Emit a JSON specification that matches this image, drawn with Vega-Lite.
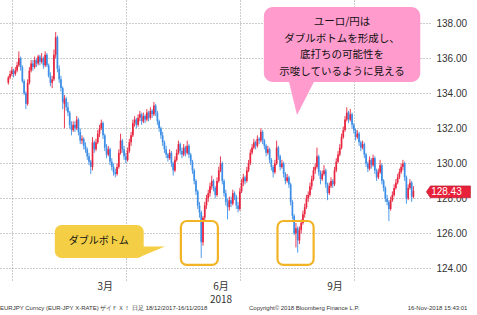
{
"$schema": "https://vega.github.io/schema/vega-lite/v6.json",
"width": 430, "height": 280,
"autosize": "none",
"padding": {"left": 0, "top": 0, "right": 47, "bottom": 35},
"background": "white",
"config": {"view": {"stroke": null}, "font": "Liberation Sans"},
"title": {"text": "\u00a0\u00a0EURJPY Curncy (EUR-JPY X-RATE) ザイＦＸ！ 日足 18/12/2017-16/11/2018\u00a0\u00a0\u00a0\u00a0\u00a0\u00a0\u00a0\u00a0\u00a0\u00a0\u00a0\u00a0\u00a0\u00a0\u00a0\u00a0\u00a0\u00a0\u00a0\u00a0\u00a0\u00a0\u00a0\u00a0\u00a0Copyright© 2018 Bloomberg Finance L.P.\u00a0\u00a0\u00a0\u00a0\u00a0\u00a0\u00a0\u00a0\u00a0\u00a0\u00a0\u00a0\u00a0\u00a0\u00a0\u00a0\u00a0\u00a0\u00a0\u00a0\u00a0\u00a0\u00a0\u00a0\u00a0\u00a0\u00a0\u00a0\u00a016-Nov-2018 15:43:01", "orient": "bottom", "anchor": "start", "frame": "group", "fontSize": 6, "fontWeight": "normal", "color": "#333", "offset": 1},
"datasets": {"candles": [
{"t":1,"o":134.6,"h":135.0,"l":134.5,"c":134.9},
{"t":2,"o":134.9,"h":135.3,"l":134.8,"c":135.1},
{"t":3,"o":135.1,"h":135.5,"l":135.0,"c":135.3},
{"t":4,"o":135.3,"h":135.4,"l":134.9,"c":135.1},
{"t":5,"o":135.1,"h":135.5,"l":135.0,"c":135.3},
{"t":6,"o":135.3,"h":135.8,"l":135.2,"c":135.6},
{"t":7,"o":135.6,"h":136.4,"l":135.5,"c":136.0},
{"t":8,"o":136.0,"h":136.1,"l":135.3,"c":135.5},
{"t":9,"o":135.5,"h":135.6,"l":134.6,"c":134.7},
{"t":10,"o":134.7,"h":134.8,"l":133.9,"c":134.0},
{"t":11,"o":134.0,"h":134.1,"l":133.1,"c":133.4},
{"t":12,"o":133.4,"h":134.8,"l":133.3,"c":134.6},
{"t":13,"o":134.6,"h":135.5,"l":134.5,"c":135.3},
{"t":14,"o":135.3,"h":135.9,"l":135.2,"c":135.7},
{"t":15,"o":135.7,"h":135.9,"l":135.3,"c":135.5},
{"t":16,"o":135.5,"h":136.1,"l":135.4,"c":135.9},
{"t":17,"o":135.9,"h":136.0,"l":135.5,"c":135.7},
{"t":18,"o":135.7,"h":136.2,"l":135.6,"c":136.1},
{"t":19,"o":136.1,"h":136.2,"l":135.6,"c":135.8},
{"t":20,"o":135.8,"h":136.3,"l":135.7,"c":136.0},
{"t":21,"o":136.0,"h":136.1,"l":135.4,"c":135.6},
{"t":22,"o":135.6,"h":136.4,"l":135.5,"c":136.2},
{"t":23,"o":136.2,"h":136.3,"l":135.5,"c":135.6},
{"t":24,"o":135.6,"h":135.7,"l":134.9,"c":135.0},
{"t":25,"o":135.0,"h":135.2,"l":134.4,"c":134.6},
{"t":26,"o":134.6,"h":135.0,"l":134.3,"c":134.8},
{"t":27,"o":134.8,"h":136.5,"l":134.7,"c":136.2},
{"t":28,"o":136.2,"h":137.5,"l":136.0,"c":137.2},
{"t":29,"o":137.2,"h":137.3,"l":135.2,"c":135.4},
{"t":30,"o":135.4,"h":135.6,"l":134.6,"c":134.8},
{"t":31,"o":134.8,"h":135.0,"l":134.1,"c":134.3},
{"t":32,"o":134.3,"h":134.4,"l":133.1,"c":133.5},
{"t":33,"o":133.4,"h":133.9,"l":132.0,"c":133.7},
{"t":34,"o":133.7,"h":133.8,"l":133.0,"c":133.2},
{"t":35,"o":133.2,"h":133.5,"l":132.7,"c":132.9},
{"t":36,"o":132.9,"h":133.0,"l":132.0,"c":132.2},
{"t":37,"o":132.2,"h":132.4,"l":131.6,"c":131.9},
{"t":38,"o":131.9,"h":132.4,"l":131.8,"c":132.2},
{"t":39,"o":132.2,"h":132.4,"l":131.8,"c":132.0},
{"t":40,"o":132.0,"h":132.7,"l":131.9,"c":132.5},
{"t":41,"o":132.5,"h":132.6,"l":131.6,"c":131.8},
{"t":42,"o":131.8,"h":132.0,"l":131.1,"c":131.3},
{"t":43,"o":131.3,"h":131.6,"l":131.1,"c":131.4},
{"t":44,"o":131.4,"h":131.5,"l":130.8,"c":131.0},
{"t":45,"o":131.0,"h":131.2,"l":130.6,"c":130.8},
{"t":46,"o":130.8,"h":130.9,"l":130.2,"c":130.4},
{"t":47,"o":130.4,"h":130.6,"l":129.9,"c":130.1},
{"t":48,"o":130.1,"h":130.2,"l":129.4,"c":129.8},
{"t":49,"o":129.8,"h":131.5,"l":129.6,"c":131.2},
{"t":50,"o":131.2,"h":131.3,"l":130.6,"c":130.8},
{"t":51,"o":130.8,"h":131.4,"l":130.7,"c":131.2},
{"t":52,"o":131.2,"h":131.9,"l":131.1,"c":131.7},
{"t":53,"o":131.7,"h":132.2,"l":131.5,"c":132.0},
{"t":54,"o":132.0,"h":132.5,"l":131.9,"c":132.3},
{"t":55,"o":132.3,"h":132.4,"l":131.4,"c":131.6},
{"t":56,"o":131.6,"h":131.7,"l":130.7,"c":130.9},
{"t":57,"o":130.9,"h":131.1,"l":130.3,"c":130.5},
{"t":58,"o":130.5,"h":131.0,"l":130.4,"c":130.8},
{"t":59,"o":130.8,"h":130.9,"l":129.9,"c":130.1},
{"t":60,"o":130.1,"h":130.3,"l":129.6,"c":129.8},
{"t":61,"o":129.8,"h":130.0,"l":129.3,"c":129.5},
{"t":62,"o":129.5,"h":129.7,"l":129.2,"c":129.4},
{"t":63,"o":129.4,"h":130.0,"l":129.3,"c":129.8},
{"t":64,"o":129.8,"h":130.8,"l":129.7,"c":130.6},
{"t":65,"o":130.6,"h":131.7,"l":130.5,"c":131.3},
{"t":66,"o":131.3,"h":131.4,"l":130.6,"c":130.8},
{"t":67,"o":130.8,"h":131.0,"l":130.2,"c":130.4},
{"t":68,"o":130.4,"h":130.6,"l":130.0,"c":130.2},
{"t":69,"o":130.2,"h":130.9,"l":130.1,"c":130.7},
{"t":70,"o":130.7,"h":131.4,"l":130.6,"c":131.2},
{"t":71,"o":131.2,"h":131.8,"l":131.0,"c":131.6},
{"t":72,"o":131.6,"h":132.5,"l":131.5,"c":132.3},
{"t":73,"o":132.3,"h":132.7,"l":132.1,"c":132.5},
{"t":74,"o":132.5,"h":132.6,"l":132.0,"c":132.2},
{"t":75,"o":132.2,"h":132.8,"l":132.1,"c":132.6},
{"t":76,"o":132.6,"h":133.0,"l":132.4,"c":132.8},
{"t":77,"o":132.8,"h":132.9,"l":132.2,"c":132.4},
{"t":78,"o":132.4,"h":132.9,"l":132.3,"c":132.7},
{"t":79,"o":132.7,"h":132.8,"l":132.3,"c":132.5},
{"t":80,"o":132.5,"h":133.1,"l":132.4,"c":132.9},
{"t":81,"o":132.9,"h":133.0,"l":132.4,"c":132.6},
{"t":82,"o":132.6,"h":133.2,"l":132.5,"c":133.0},
{"t":83,"o":133.0,"h":133.1,"l":132.6,"c":132.8},
{"t":84,"o":132.8,"h":133.5,"l":132.7,"c":133.3},
{"t":85,"o":133.3,"h":133.4,"l":132.7,"c":132.9},
{"t":86,"o":132.9,"h":133.0,"l":132.2,"c":132.4},
{"t":87,"o":132.4,"h":132.5,"l":131.8,"c":132.0},
{"t":88,"o":132.0,"h":132.1,"l":131.4,"c":131.6},
{"t":89,"o":131.6,"h":131.8,"l":131.0,"c":131.2},
{"t":90,"o":131.2,"h":131.3,"l":130.6,"c":130.8},
{"t":91,"o":130.8,"h":131.0,"l":130.3,"c":130.5},
{"t":92,"o":130.5,"h":130.6,"l":130.1,"c":130.3},
{"t":93,"o":130.3,"h":130.8,"l":130.2,"c":130.6},
{"t":94,"o":130.6,"h":130.7,"l":129.8,"c":130.0},
{"t":95,"o":130.0,"h":130.1,"l":129.3,"c":129.6},
{"t":96,"o":129.6,"h":130.4,"l":129.5,"c":130.2},
{"t":97,"o":130.2,"h":130.8,"l":130.1,"c":130.6},
{"t":98,"o":130.6,"h":131.3,"l":130.5,"c":131.1},
{"t":99,"o":131.1,"h":131.2,"l":130.5,"c":130.7},
{"t":100,"o":130.7,"h":130.9,"l":130.3,"c":130.5},
{"t":101,"o":130.5,"h":131.1,"l":130.4,"c":130.9},
{"t":102,"o":130.9,"h":131.0,"l":130.4,"c":130.6},
{"t":103,"o":130.6,"h":131.3,"l":130.5,"c":131.0},
{"t":104,"o":131.0,"h":131.1,"l":130.3,"c":130.5},
{"t":105,"o":130.5,"h":130.6,"l":129.9,"c":130.1},
{"t":106,"o":130.1,"h":130.2,"l":129.4,"c":129.6},
{"t":107,"o":129.6,"h":129.7,"l":128.8,"c":129.0},
{"t":108,"o":129.0,"h":129.1,"l":128.2,"c":128.4},
{"t":109,"o":128.4,"h":128.5,"l":127.4,"c":127.6},
{"t":110,"o":127.6,"h":127.8,"l":126.9,"c":127.2},
{"t":111,"o":127.2,"h":127.3,"l":124.6,"c":125.5},
{"t":112,"o":125.5,"h":127.0,"l":125.3,"c":126.9},
{"t":113,"o":126.9,"h":127.8,"l":126.7,"c":127.6},
{"t":114,"o":127.6,"h":128.2,"l":127.4,"c":128.0},
{"t":115,"o":128.0,"h":128.5,"l":127.8,"c":128.3},
{"t":116,"o":128.3,"h":128.9,"l":128.1,"c":128.7},
{"t":117,"o":128.7,"h":129.3,"l":128.5,"c":129.0},
{"t":118,"o":129.0,"h":129.1,"l":128.4,"c":128.6},
{"t":119,"o":128.6,"h":128.7,"l":128.0,"c":128.2},
{"t":120,"o":128.2,"h":129.2,"l":128.1,"c":129.0},
{"t":121,"o":129.0,"h":129.8,"l":128.9,"c":129.6},
{"t":122,"o":129.6,"h":130.4,"l":129.5,"c":130.0},
{"t":123,"o":130.0,"h":130.1,"l":128.8,"c":129.0},
{"t":124,"o":129.0,"h":129.1,"l":128.1,"c":128.3},
{"t":125,"o":128.3,"h":128.5,"l":127.6,"c":127.8},
{"t":126,"o":127.8,"h":128.0,"l":126.8,"c":127.5},
{"t":127,"o":127.5,"h":128.1,"l":127.3,"c":127.9},
{"t":128,"o":127.9,"h":128.1,"l":127.5,"c":127.7},
{"t":129,"o":127.7,"h":128.5,"l":127.6,"c":128.3},
{"t":130,"o":128.3,"h":128.4,"l":127.9,"c":128.1},
{"t":131,"o":128.1,"h":128.2,"l":127.4,"c":127.6},
{"t":132,"o":127.6,"h":127.8,"l":127.2,"c":127.4},
{"t":133,"o":127.4,"h":128.6,"l":127.3,"c":128.4},
{"t":134,"o":128.4,"h":129.1,"l":128.3,"c":128.9},
{"t":135,"o":128.9,"h":129.4,"l":128.7,"c":129.2},
{"t":136,"o":129.2,"h":129.3,"l":128.8,"c":129.0},
{"t":137,"o":129.0,"h":129.8,"l":128.9,"c":129.6},
{"t":138,"o":129.6,"h":130.2,"l":129.5,"c":130.0},
{"t":139,"o":130.0,"h":130.8,"l":129.9,"c":130.6},
{"t":140,"o":130.6,"h":131.1,"l":130.5,"c":130.9},
{"t":141,"o":130.9,"h":131.4,"l":130.8,"c":131.2},
{"t":142,"o":131.2,"h":131.3,"l":130.8,"c":131.0},
{"t":143,"o":131.0,"h":131.6,"l":130.9,"c":131.4},
{"t":144,"o":131.4,"h":131.5,"l":131.1,"c":131.3},
{"t":145,"o":131.3,"h":132.0,"l":131.2,"c":131.8},
{"t":146,"o":131.8,"h":131.9,"l":131.1,"c":131.3},
{"t":147,"o":131.3,"h":131.4,"l":130.8,"c":131.0},
{"t":148,"o":131.0,"h":131.1,"l":130.4,"c":130.6},
{"t":149,"o":130.6,"h":131.0,"l":130.5,"c":130.8},
{"t":150,"o":130.8,"h":130.9,"l":130.0,"c":130.2},
{"t":151,"o":130.2,"h":130.3,"l":129.6,"c":129.8},
{"t":152,"o":129.8,"h":129.9,"l":129.2,"c":129.5},
{"t":153,"o":129.5,"h":130.2,"l":129.4,"c":130.0},
{"t":154,"o":130.0,"h":131.3,"l":129.9,"c":130.9},
{"t":155,"o":130.9,"h":131.0,"l":130.2,"c":130.4},
{"t":156,"o":130.4,"h":130.5,"l":129.6,"c":129.8},
{"t":157,"o":129.8,"h":130.2,"l":129.7,"c":130.0},
{"t":158,"o":130.0,"h":130.1,"l":129.2,"c":129.4},
{"t":159,"o":129.4,"h":129.5,"l":128.8,"c":129.0},
{"t":160,"o":129.0,"h":129.4,"l":128.9,"c":129.2},
{"t":161,"o":129.2,"h":129.3,"l":128.6,"c":128.8},
{"t":162,"o":128.8,"h":128.9,"l":127.6,"c":127.8},
{"t":163,"o":127.8,"h":127.9,"l":126.8,"c":127.0},
{"t":164,"o":127.0,"h":127.1,"l":125.9,"c":126.0},
{"t":165,"o":126.0,"h":126.6,"l":125.2,"c":126.3},
{"t":166,"o":126.3,"h":126.4,"l":124.9,"c":125.6},
{"t":167,"o":125.6,"h":126.4,"l":125.4,"c":126.2},
{"t":168,"o":126.2,"h":126.8,"l":126.0,"c":126.6},
{"t":169,"o":126.6,"h":127.3,"l":126.5,"c":127.1},
{"t":170,"o":127.1,"h":127.7,"l":126.9,"c":127.5},
{"t":171,"o":127.5,"h":128.2,"l":127.4,"c":128.0},
{"t":172,"o":128.0,"h":128.4,"l":127.8,"c":128.2},
{"t":173,"o":128.2,"h":128.9,"l":128.1,"c":128.7},
{"t":174,"o":128.7,"h":129.3,"l":128.5,"c":129.1},
{"t":175,"o":129.1,"h":129.8,"l":129.0,"c":129.6},
{"t":176,"o":129.6,"h":130.0,"l":129.4,"c":129.8},
{"t":177,"o":129.8,"h":130.9,"l":129.7,"c":130.4},
{"t":178,"o":130.4,"h":130.5,"l":129.3,"c":129.5},
{"t":179,"o":129.5,"h":129.6,"l":128.8,"c":129.1},
{"t":180,"o":129.1,"h":129.6,"l":129.0,"c":129.4},
{"t":181,"o":129.4,"h":129.9,"l":129.3,"c":129.6},
{"t":182,"o":129.6,"h":129.7,"l":128.6,"c":128.8},
{"t":183,"o":128.8,"h":128.9,"l":127.9,"c":128.3},
{"t":184,"o":128.3,"h":128.9,"l":128.2,"c":128.7},
{"t":185,"o":128.7,"h":129.2,"l":128.6,"c":129.0},
{"t":186,"o":129.0,"h":129.1,"l":128.6,"c":128.8},
{"t":187,"o":128.8,"h":129.8,"l":128.7,"c":129.6},
{"t":188,"o":129.6,"h":130.3,"l":129.5,"c":130.1},
{"t":189,"o":130.1,"h":130.7,"l":130.0,"c":130.5},
{"t":190,"o":130.5,"h":131.1,"l":130.4,"c":130.9},
{"t":191,"o":130.9,"h":131.7,"l":130.8,"c":131.5},
{"t":192,"o":131.5,"h":132.1,"l":131.4,"c":131.9},
{"t":193,"o":131.9,"h":132.7,"l":131.8,"c":132.5},
{"t":194,"o":132.5,"h":133.2,"l":132.4,"c":132.9},
{"t":195,"o":132.9,"h":133.0,"l":132.3,"c":132.5},
{"t":196,"o":132.5,"h":133.1,"l":132.4,"c":132.8},
{"t":197,"o":132.8,"h":132.9,"l":132.0,"c":132.2},
{"t":198,"o":132.2,"h":132.3,"l":131.7,"c":131.9},
{"t":199,"o":131.9,"h":132.0,"l":131.3,"c":131.5},
{"t":200,"o":131.5,"h":131.9,"l":131.4,"c":131.7},
{"t":201,"o":131.7,"h":131.8,"l":131.0,"c":131.2},
{"t":202,"o":131.2,"h":131.3,"l":130.7,"c":130.9},
{"t":203,"o":130.9,"h":131.3,"l":130.8,"c":131.1},
{"t":204,"o":131.1,"h":131.2,"l":130.3,"c":130.5},
{"t":205,"o":130.5,"h":130.6,"l":129.8,"c":130.0},
{"t":206,"o":130.0,"h":130.1,"l":129.5,"c":129.7},
{"t":207,"o":129.7,"h":130.4,"l":129.6,"c":130.2},
{"t":208,"o":130.2,"h":130.3,"l":129.7,"c":129.9},
{"t":209,"o":129.9,"h":130.5,"l":129.8,"c":130.3},
{"t":210,"o":130.3,"h":130.4,"l":129.4,"c":129.6},
{"t":211,"o":129.6,"h":129.7,"l":129.0,"c":129.2},
{"t":212,"o":129.2,"h":129.7,"l":129.1,"c":129.5},
{"t":213,"o":129.5,"h":130.2,"l":129.4,"c":129.9},
{"t":214,"o":129.9,"h":130.0,"l":128.8,"c":129.0},
{"t":215,"o":129.0,"h":129.1,"l":128.4,"c":128.6},
{"t":216,"o":128.6,"h":128.7,"l":127.8,"c":128.0},
{"t":217,"o":128.0,"h":128.2,"l":127.6,"c":127.8},
{"t":218,"o":127.8,"h":127.9,"l":126.7,"c":127.4},
{"t":219,"o":127.4,"h":128.1,"l":127.3,"c":127.9},
{"t":220,"o":127.9,"h":128.4,"l":127.8,"c":128.2},
{"t":221,"o":128.2,"h":128.8,"l":128.1,"c":128.6},
{"t":222,"o":128.6,"h":129.1,"l":128.5,"c":128.9},
{"t":223,"o":128.9,"h":129.4,"l":128.8,"c":129.2},
{"t":224,"o":129.2,"h":129.7,"l":129.1,"c":129.5},
{"t":225,"o":129.5,"h":130.0,"l":129.4,"c":129.8},
{"t":226,"o":129.8,"h":130.2,"l":129.6,"c":130.0},
{"t":227,"o":130.0,"h":130.1,"l":129.0,"c":129.2},
{"t":228,"o":129.2,"h":129.3,"l":127.7,"c":128.0},
{"t":229,"o":128.0,"h":128.8,"l":127.9,"c":128.6},
{"t":230,"o":128.6,"h":129.1,"l":128.5,"c":128.9},
{"t":231,"o":128.9,"h":129.0,"l":127.8,"c":128.1},
{"t":232,"o":128.1,"h":128.7,"l":128.0,"c":128.43}
]},
"data": {"name": "candles"},
"layer": [
{"mark": {"type": "rule", "strokeWidth": 0.9},
 "encoding": {
  "x": {"field": "t", "type": "quantitative", "title": null, "scale": {"domain": [-0.9, 238.6], "nice": false, "zero": false},
   "axis": {"title": null, "values": [3, 56, 68, 122, 133, 187, 198], "labelExpr": "datum.value == 56 ? '3月' : datum.value == 122 ? ['6月', '2018'] : datum.value == 187 ? '9月' : ''", "labelFont": "Noto Sans CJK JP", "labelFontSize": 10, "labelColor": "#333", "labelLineHeight": 13, "labelOverlap": false, "labelPadding": 1, "ticks": false, "domain": false, "grid": true, "gridColor": "#999", "gridDash": [1, 2],
    "gridOpacity": {"condition": {"test": "datum.value == 3 || datum.value == 68 || datum.value == 133 || datum.value == 198", "value": 1}, "value": 0}}},
  "y": {"field": "l", "type": "quantitative", "title": null, "scale": {"domain": [123.34, 139.33], "nice": false, "zero": false},
   "axis": {"title": null, "orient": "right", "values": [124, 126, 128, 130, 132, 134, 136, 138], "tickCount": 8, "format": ".2f", "labelFont": "Liberation Sans", "labelFontSize": 10, "labelColor": "#333", "labelPadding": 6, "labelOverlap": false, "ticks": false, "domain": false, "grid": true, "gridColor": "#999", "gridDash": [1, 2]}},
  "y2": {"field": "h"},
  "color": {"condition": {"test": "datum.c >= datum.o", "value": "#e8253f"}, "value": "#3d8ee6"}
 }},
{"mark": {"type": "bar", "width": 1.7},
 "encoding": {
  "x": {"field": "t", "type": "quantitative", "title": null},
  "y": {"field": "o", "type": "quantitative", "title": null},
  "y2": {"field": "c"},
  "color": {"condition": {"test": "datum.c >= datum.o", "value": "#e8253f"}, "value": "#3d8ee6"}
 }},
{"data": {"values": [{}]},
 "mark": {"type": "rect", "fillOpacity": 0, "stroke": "#f2b425", "strokeWidth": 2.2, "cornerRadius": 6},
 "encoding": {"x": {"datum": 99.4, "type": "quantitative", "title": null}, "x2": {"datum": 120.5}, "y": {"datum": 126.71, "type": "quantitative", "title": null}, "y2": {"datum": 124.2}}},
{"data": {"values": [{}]},
 "mark": {"type": "rect", "fillOpacity": 0, "stroke": "#f2b425", "strokeWidth": 2.2, "cornerRadius": 6},
 "encoding": {"x": {"datum": 154.5, "type": "quantitative", "title": null}, "x2": {"datum": 175.1}, "y": {"datum": 126.71, "type": "quantitative", "title": null}, "y2": {"datum": 124.2}}},
{"data": {"values": [{}]},
 "mark": {"type": "rect", "fill": "#f4cf45", "cornerRadius": 7},
 "encoding": {"x": {"datum": 27.5, "type": "quantitative", "title": null}, "x2": {"datum": 78.2}, "y": {"datum": 126.48, "type": "quantitative", "title": null}, "y2": {"datum": 124.6}}},
{"data": {"values": [{}]},
 "mark": {"type": "point", "shape": "M -1 -0.42 L 1 -0.42 L -1 0.42 Z", "size": 702, "filled": true, "fill": "#f4cf45", "opacity": 1, "strokeWidth": 0},
 "encoding": {"x": {"datum": 82.8, "type": "quantitative", "title": null}, "y": {"datum": 124.94, "type": "quantitative", "title": null}}},
{"data": {"values": [{}]},
 "mark": {"type": "text", "text": "ダブルボトム", "font": "Noto Sans CJK JP", "fontSize": 10, "color": "#111", "align": "center", "baseline": "middle"},
 "encoding": {"x": {"datum": 52.6, "type": "quantitative", "title": null}, "y": {"datum": 125.57, "type": "quantitative", "title": null}}},
{"data": {"values": [{}]},
 "mark": {"type": "rect", "fill": "#ff9bcd", "cornerRadius": 9},
 "encoding": {"x": {"datum": 146.7, "type": "quantitative", "title": null}, "x2": {"datum": 235.9}, "y": {"datum": 138.93, "type": "quantitative", "title": null}, "y2": {"datum": 134.65}}},
{"data": {"values": [{}]},
 "mark": {"type": "point", "shape": "M -0.85 -1.25 L 0.85 -1.25 L -0.3 1 Z", "size": 1089, "filled": true, "fill": "#ff9bcd", "opacity": 1, "strokeWidth": 0},
 "encoding": {"x": {"datum": 168.46, "type": "quantitative", "title": null}, "y": {"datum": 133.705, "type": "quantitative", "title": null}}},
{"data": {"values": [{}]},
 "mark": {"type": "text", "text": ["ユーロ/円は", "ダブルボトムを形成し、", "底打ちの可能性を", "示唆しているように見える"], "font": "Noto Sans CJK JP", "fontSize": 10.5, "lineHeight": 16.6, "color": "#111", "align": "center", "baseline": "middle"},
 "encoding": {"x": {"datum": 191.3, "type": "quantitative", "title": null}, "y": {"datum": 138.07, "type": "quantitative", "title": null}}},
{"transform": [{"filter": "datum.t == 232"}],
 "mark": {"type": "point", "shape": "M -1 0 L -0.82 -0.27 L 1 -0.27 L 1 0.27 L -0.82 0.27 Z", "size": 1936, "filled": true, "fill": "#e8203a", "stroke": "#b01028", "strokeWidth": 0.6, "opacity": 1, "xOffset": 35, "yOffset": 1, "clip": false},
 "encoding": {"x": {"field": "t", "type": "quantitative", "title": null}, "y": {"field": "c", "type": "quantitative", "title": null}}},
{"transform": [{"filter": "datum.t == 232"}],
 "mark": {"type": "text", "font": "Liberation Sans", "fontSize": 10, "color": "white", "align": "center", "baseline": "middle", "dx": 33, "dy": 1.5},
 "encoding": {"x": {"field": "t", "type": "quantitative", "title": null}, "y": {"field": "c", "type": "quantitative", "title": null}, "text": {"field": "c", "type": "quantitative", "format": ".2f"}}}
]
}
